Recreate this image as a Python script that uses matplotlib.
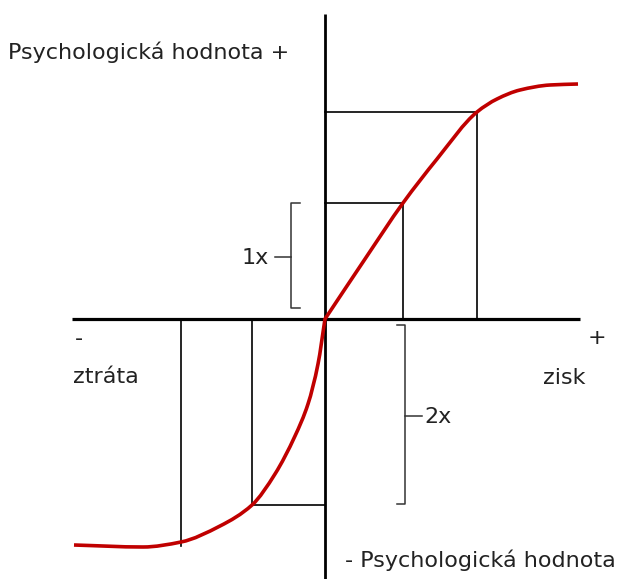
import numpy as np
import matplotlib.pyplot as plt
from matplotlib.path import Path
from matplotlib.patches import PathPatch

# value function: gains/losses (x) vs psychological value (y), origin at the reference point
loss_x = [-251, -182, -144, -105, -73, -50, -30, -17, -7, 0]
loss_y = [-226, -228, -223, -207, -186, -155, -117, -85, -45, 0]
gain_x = [0, 40, 78, 112, 152, 172, 195, 225, 253]
gain_y = [0, 60, 116, 160, 207, 220, 229, 234, 235]

# guide boxes: gain levels and the matching loss levels
gain_marks = [78, 152]
loss_marks = [-73, -144]

plt.rcParams['font.family'] = ['DejaVu Sans']

fig = plt.figure(figsize=(6.37, 5.79), dpi=100)
ax = fig.add_axes([0, 0, 1, 1])
ax.set_xlim(-325, 312)
ax.set_ylim(-260, 319)
ax.axis('off')

curve_x = np.array(loss_x + gain_x[1:], dtype=float)
curve_y = np.array(loss_y + gain_y[1:], dtype=float)


def smooth_path(x, y):
    # monotone (Fritsch-Carlson) tangents, drawn as cubic Bezier segments
    x = np.asarray(x, dtype=float)
    y = np.asarray(y, dtype=float)
    h = np.diff(x)
    d = np.diff(y) / h
    m = np.zeros_like(y)
    for i in range(1, len(x) - 1):
        if d[i - 1] * d[i] > 0:
            w1 = 2 * h[i] + h[i - 1]
            w2 = h[i] + 2 * h[i - 1]
            m[i] = (w1 + w2) / (w1 / d[i - 1] + w2 / d[i])
    m[0], m[-1] = d[0], d[-1]
    verts = [(x[0], y[0])]
    codes = [Path.MOVETO]
    for i in range(len(x) - 1):
        verts += [(x[i] + h[i] / 3, y[i] + m[i] * h[i] / 3),
                  (x[i + 1] - h[i] / 3, y[i + 1] - m[i + 1] * h[i] / 3),
                  (x[i + 1], y[i + 1])]
        codes += [Path.CURVE4] * 3
    return verts, codes


def value_at(x):
    return np.interp(x, curve_x, curve_y)


# axes of the diagram
ax.plot([-253, 255], [0, 0], color='black', lw=2.3, solid_capstyle='butt', zorder=2)
ax.plot([0, 0], [-260, 305], color='black', lw=2.0, solid_capstyle='butt', zorder=2)

# boxes from the axes to the curve
for gx in gain_marks:
    gy = value_at(gx)
    ax.plot([0, gx, gx], [gy, gy, 0], color='black', lw=1.2, zorder=1)
lx = loss_marks[0]
ly = value_at(lx)
ax.plot([lx, lx, 0], [0, ly, ly], color='black', lw=1.2, zorder=1)
lx2 = loss_marks[1]
ax.plot([lx2, lx2], [0, value_at(lx2) - 4], color='black', lw=1.2, zorder=1)

# loss and gain branches meet at the origin with their own slopes
lv, lc = smooth_path(loss_x, loss_y)
gv, gc = smooth_path(gain_x, gain_y)
curve = Path(lv + gv[1:], lc + gc[1:])
ax.add_patch(PathPatch(curve, facecolor='none', edgecolor='#c00000',
                       lw=2.6, capstyle='butt', joinstyle='round', zorder=3))

# brackets comparing the two changes
bc = '#333333'
ax.plot([-25, -34, -34, -25], [116, 116, 11, 11], color=bc, lw=1.1)
ax.plot([-50, -34], [62, 62], color=bc, lw=1.1)
ax.plot([72, 80, 80, 72], [-6, -6, -185, -185], color=bc, lw=1.1)
ax.plot([80, 97], [-97, -97], color=bc, lw=1.1)

fs = 16
tc = '#222222'
ax.text(-56, 55, '1x', ha='right', va='baseline', fontsize=fs, color=tc)
ax.text(99, -104, '2x', ha='left', va='baseline', fontsize=fs, color=tc)
ax.text(-317, 260, 'Psychologická hodnota +', ha='left', va='baseline', fontsize=fs, color=tc)
ax.text(20, -248, '- Psychologická hodnota', ha='left', va='baseline', fontsize=fs, color=tc)
ax.text(-252, -64, 'ztráta', ha='left', va='baseline', fontsize=fs, color=tc)
ax.text(-250, -26, '-', ha='left', va='baseline', fontsize=fs, color=tc)
ax.text(218, -65, 'zisk', ha='left', va='baseline', fontsize=fs, color=tc)
ax.text(272, -25, '+', ha='center', va='baseline', fontsize=fs, color=tc)

fig.savefig('out.png', dpi=100)
